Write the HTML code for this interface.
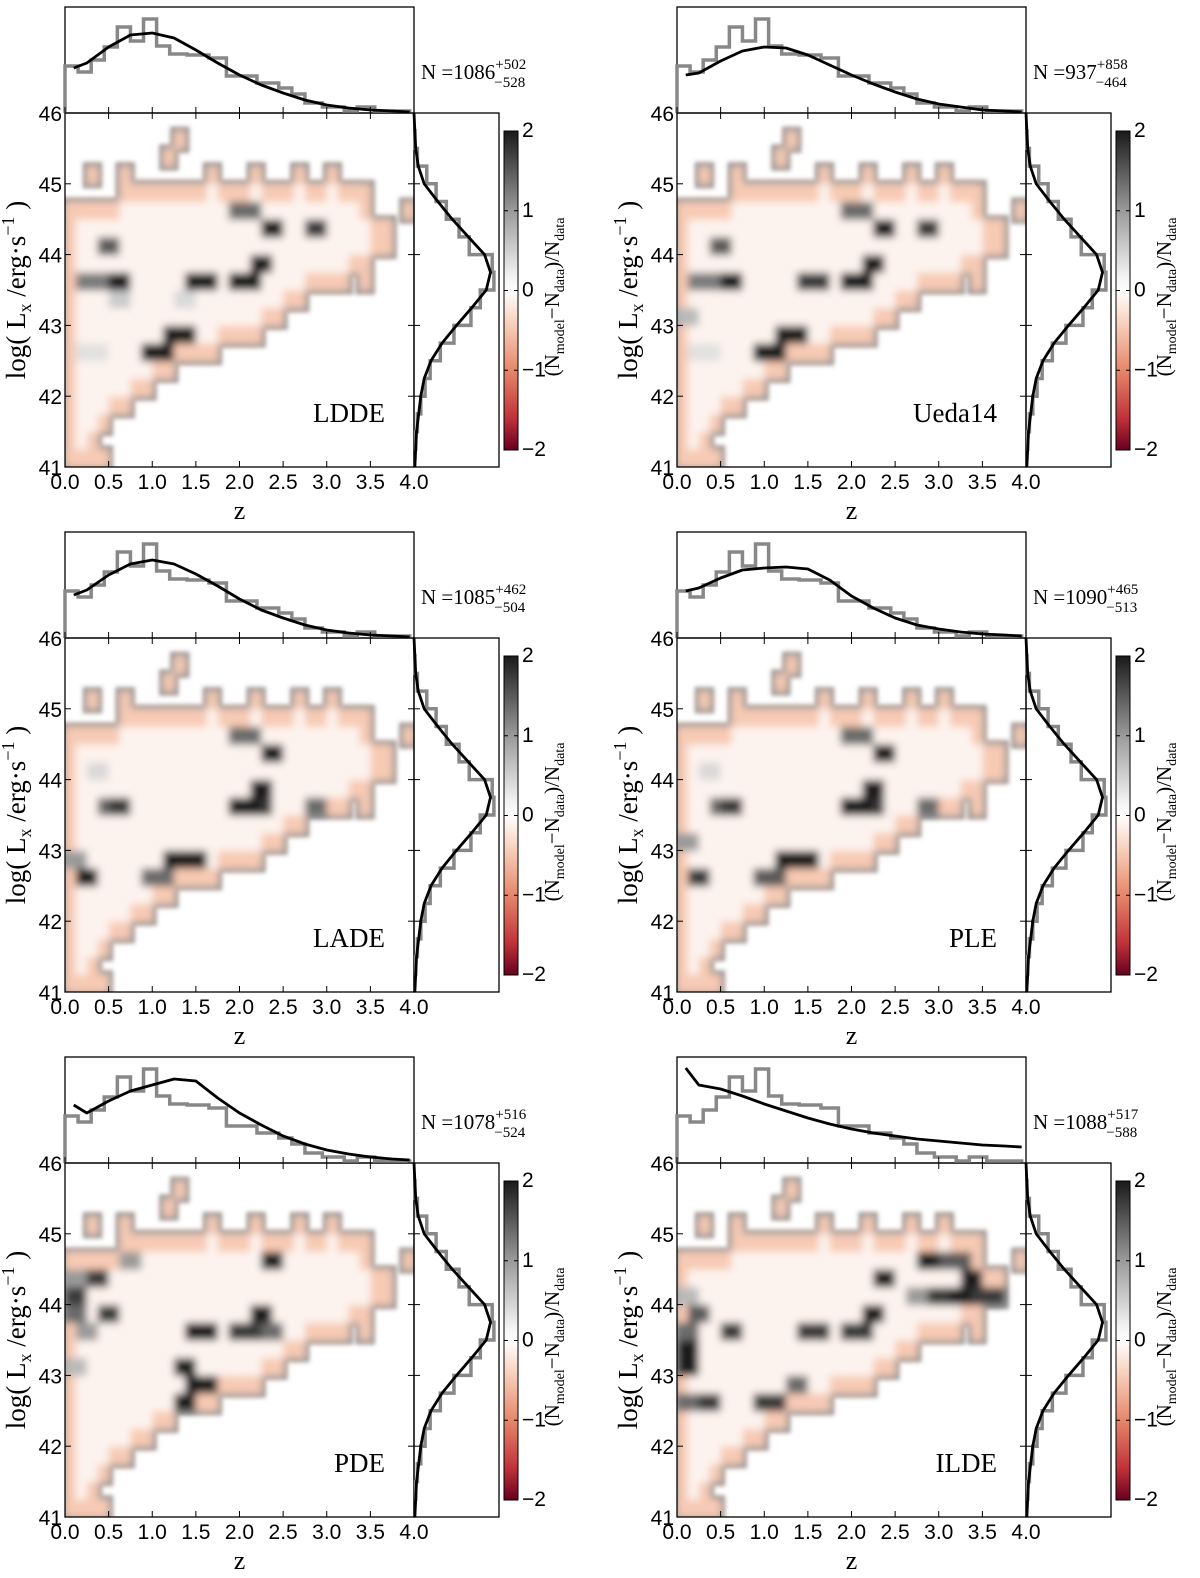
<!DOCTYPE html>
<html><head><meta charset="utf-8"><style>
html,body{margin:0;padding:0;background:#fff;}
svg{display:block;}
.tk{font-family:"Liberation Sans",sans-serif;font-size:21px;fill:#000;}
.sf{font-family:"Liberation Serif",serif;fill:#000;}
</style></head><body>
<svg id="fig" width="1200" height="1578" viewBox="0 0 1200 1578" xmlns="http://www.w3.org/2000/svg">
<defs>
<linearGradient id="cbg" x1="0" y1="0" x2="0" y2="1">
<stop offset="0" stop-color="#1a1a1a"/><stop offset="0.25" stop-color="#9a9a9a"/><stop offset="0.45" stop-color="#f0f0f0"/><stop offset="0.5" stop-color="#ffffff"/><stop offset="0.6" stop-color="#f8d2bf"/><stop offset="0.75" stop-color="#e5876a"/><stop offset="0.9" stop-color="#c0323a"/><stop offset="1" stop-color="#67001f"/>
</linearGradient>
<filter id="heat" filterUnits="userSpaceOnUse" x="0" y="0" width="1200" height="1578">
<feMorphology in="SourceAlpha" operator="dilate" radius="4" result="d"/>
<feFlood flood-color="#9a9a9a" result="f"/>
<feComposite in="f" in2="d" operator="in" result="g"/>
<feGaussianBlur in="g" stdDeviation="2" result="gb"/>
<feGaussianBlur in="SourceGraphic" stdDeviation="4" result="sb"/>
<feMerge><feMergeNode in="gb"/><feMergeNode in="sb"/></feMerge>
</filter>
</defs>
</svg>
<script>
// ---- data ----
const models = ["LDDE","Ueda14","LADE","PLE","PDE","ILDE"];
const nValues = ["1086","937","1085","1090","1078","1088"];
const nPlus = ["+502","+858","+462","+465","+516","+517"];
const nMinus = ["\u2212528","\u2212464","\u2212504","\u2212513","\u2212524","\u2212588"];
const zTicks = ["0.0","0.5","1.0","1.5","2.0","2.5","3.0","3.5","4.0"];
const lTicks = [41,42,43,44,45,46];
const cbTicks = [2,1,0,-1,-2];
const zEdges = [0,0.15,0.3,0.45,0.6,0.75,0.9,1.05,1.2,1.4,1.65,1.85,2.0,2.2,2.45,2.6,2.75,2.95,3.2,3.35,3.55,3.95];
const zCounts = [0.47,0.41,0.53,0.66,0.86,0.72,0.94,0.67,0.59,0.58,0.55,0.37,0.37,0.30,0.25,0.19,0.10,0.06,0.02,0.06,0.02];
const curveZ = [0.1,0.25,0.5,0.75,1.0,1.25,1.5,1.75,2.0,2.25,2.5,2.75,3.0,3.25,3.5,3.75,3.95];
const curveLDDE = [0.45,0.5,0.66,0.78,0.8,0.75,0.63,0.5,0.38,0.28,0.2,0.13,0.08,0.05,0.03,0.02,0.01];
const curveUeda = [0.38,0.4,0.52,0.62,0.66,0.65,0.58,0.48,0.38,0.29,0.21,0.14,0.09,0.06,0.03,0.02,0.01];
const curveLADE = [0.43,0.48,0.63,0.74,0.78,0.74,0.64,0.52,0.39,0.28,0.2,0.13,0.08,0.05,0.03,0.02,0.01];
const curvePLE = [0.47,0.5,0.6,0.68,0.7,0.71,0.69,0.58,0.42,0.3,0.2,0.13,0.09,0.06,0.04,0.03,0.02];
const curvePDE = [0.58,0.5,0.62,0.72,0.78,0.84,0.82,0.65,0.5,0.38,0.27,0.19,0.13,0.09,0.06,0.04,0.03];
const curveILDE = [0.95,0.78,0.74,0.67,0.59,0.52,0.45,0.39,0.34,0.3,0.27,0.24,0.22,0.2,0.18,0.17,0.16];
const zCurves = [curveLDDE,curveUeda,curveLADE,curvePLE,curvePDE,curveILDE];
const lEdges = [41.25,41.5,41.75,42,42.25,42.5,42.75,43,43.25,43.5,43.75,44,44.25,44.5,44.75,45,45.25,45.5];
const lCounts = [0.02,0.04,0.08,0.13,0.19,0.31,0.47,0.67,0.78,0.94,0.92,0.65,0.53,0.38,0.26,0.15,0.04,0.01];
const curveL = [41,41.5,42,42.25,42.5,42.75,43,43.25,43.5,43.75,44,44.25,44.5,44.75,45,45.25,45.5,46];
const curveLVals = [0.01,0.03,0.08,0.12,0.2,0.33,0.5,0.68,0.85,0.9,0.83,0.64,0.45,0.28,0.12,0.05,0.02,0.0];
const maskRows = [[45.5,1.25,1.4],[45.25,1.1,1.25],[45.0,0.2,0.35],[45.0,0.6,0.75],[45.0,1.6,1.75],[45.0,2.1,2.25],[45.0,2.6,2.75],[45.0,3.0,3.15],
[44.75,0.6,3.5],[44.5,0,3.5],[44.5,3.85,4.0],[44.25,0,3.8],[44.0,0,3.7],[43.75,0,3.5],[43.5,0,3.2],[43.5,3.35,3.5],[43.25,0,2.8],[43.25,3.15,3.3],
[43.0,0,2.5],[42.75,0,2.3],[42.5,0,1.8],[42.25,0,1.3],[42.0,0,1.0],[41.75,0,0.8],[41.5,0,0.5],[41.25,0,0.4],[41.0,0,0.45]];
const spotsLDDE = [[0.4,44.1,1.6],[0.6,43.7,2],[0.25,43.5,1.4],[1.5,43.5,2],[2.0,43.5,2],[2.35,44.4,2],[2.35,44.25,2],[2.15,43.9,2],[2.8,44.3,1.8],[1.15,42.95,2],[1.3,42.9,2],[1.0,42.7,2],[2.0,44.7,1.5],[0.6,43.3,0.8],[0.25,42.5,0.5],[1.3,43.3,0.6]];
const spotsUeda = [[0.4,44.1,1.6],[0.6,43.7,2],[0.25,43.5,1.4],[1.5,43.5,1.8],[2.0,43.5,2],[2.35,44.4,2],[2.35,44.25,2],[2.15,43.9,2],[2.8,44.3,1.8],[1.15,42.95,2],[1.3,42.9,2],[1.0,42.7,2],[2.0,44.7,1.5],[0.1,43.2,1.0],[0.25,42.5,0.5]];
const spotsLADE = [[0.2,42.6,2],[0.4,43.5,1.5],[0.6,43.7,1.8],[1.2,42.9,2],[1.4,42.9,2],[1.0,42.7,1.5],[2.0,43.5,2],[2.2,43.5,1.8],[2.35,44.4,2],[2.35,44.25,2],[2.15,43.9,2],[2.0,44.7,1.5],[2.8,43.6,1.5],[0.0,42.9,1.2],[0.3,44.2,0.6]];
const spotsPLE = [[0.2,42.6,1.8],[0.4,43.5,1.5],[0.6,43.7,1.8],[1.2,42.9,2],[1.4,42.9,2],[1.0,42.7,1.6],[2.0,43.5,2],[2.2,43.5,1.8],[2.35,44.4,2],[2.35,44.25,2],[2.15,43.9,2],[2.0,44.7,1.5],[2.8,43.6,1.5],[0.0,43.0,1.2],[0.3,44.2,0.6]];
const spotsPDE = [[0.1,44.1,1.8],[0.3,44.3,1.8],[0.1,43.8,1.5],[0.4,43.9,1.8],[0.7,44.5,1.2],[1.3,43.0,2],[1.5,42.9,2],[1.3,42.7,2],[1.5,43.5,2],[1.9,43.5,1.8],[2.1,43.5,1.8],[2.3,43.5,1.5],[2.15,43.9,2],[2.35,44.6,2],[0.2,43.5,1.2],[0.0,43.0,1.0],[0.0,44.4,1.2]];
const spotsILDE = [[0.0,43.3,2],[0.1,43.0,2],[0.2,43.8,1.6],[0.1,42.6,1.5],[0.3,42.5,1.8],[0.0,43.6,1.5],[2.35,44.4,2],[2.15,43.9,2],[2.8,44.5,2],[3.0,44.2,1.8],[3.2,44.0,2],[3.3,44.4,2],[3.5,44.2,1.8],[2.9,44.7,1.6],[3.2,44.7,1.6],[1.5,43.5,1.8],[2.0,43.5,1.8],[1.3,42.9,1.5],[0.6,43.7,1.8],[1.0,42.7,1.8],[0.0,44.0,1.0],[2.7,44.2,1.2]];
const spots = [spotsLDDE,spotsUeda,spotsLADE,spotsPLE,spotsPDE,spotsILDE];

// ---- drawing ----
const NS = "http://www.w3.org/2000/svg";
const svg = document.getElementById("fig");
function mk(tag, attrs, parent){const e=document.createElementNS(NS,tag);for(const k in attrs)e.setAttribute(k,attrs[k]);(parent||svg).appendChild(e);return e;}
function lerp(a,b,t){return a+(b-a)*t;}
function color(v){
  const stops=[[-2,[103,0,31]],[-1,[229,135,106]],[-0.5,[246,196,172]],[0,[255,255,255]],[0.5,[225,225,225]],[1,[186,186,186]],[2,[26,26,26]]];
  v=Math.max(-2,Math.min(2,v));
  for(let i=0;i<stops.length-1;i++){const a=stops[i],b=stops[i+1];if(v<=b[0]){const t=(v-a[0])/(b[0]-a[0]);return "rgb("+a[1].map((c,j)=>Math.round(lerp(c,b[1][j],t))).join(",")+")";}}
  return "rgb(26,26,26)";
}
const DZ=0.125, DL=0.25;
function inMask(z,L){for(const r of maskRows){if(Math.abs(r[0]-L)<1e-6 && z>=r[1]-1e-6 && z+DZ<=r[2]+0.07)return true;}return false;}

models.forEach((m,idx)=>{
  const col=idx%2,row=Math.floor(idx/2);
  const left=65+col*612, top=7+row*525;
  const W=349, mTop=top+106, mBot=top+460, H=mBot-mTop;
  const px=z=>left+z/4*W, py=L=>mTop+(46-L)/5*H;
  const hy=v=>mTop-v*100, mx=v=>left+W+v*85;
  const g=mk("g",{});
  
  

  const clipId="clip"+idx;
  const cp=mk("clipPath",{id:clipId},g);mk("rect",{x:left,y:mTop,width:W,height:H},cp);
  const hc=mk("g",{"clip-path":"url(#"+clipId+")"},g);
  const hg=mk("g",{filter:"url(#heat)"},hc);
  
  
  for(let L=41;L<46;L+=DL){for(let z=0;z<4;z+=DZ){
    if(!inMask(z,L))continue;
    const edge=!inMask(z-DZ,L)||!inMask(z+DZ,L)||!inMask(z,L-DL)||!inMask(z,L+DL);
    let v=edge?-0.45:-0.1;
    for(const s of spots[idx]){if(s[0]>=z-0.13&&s[0]<z+DZ+0.02&&s[1]>=L-0.01&&s[1]<L+DL-0.01)v=Math.max(v,s[2]);}
    const c=mk("rect",{x:px(z),y:py(L+DL),width:px(z+DZ)-px(z)+0.5,height:py(L)-py(L+DL)+0.5,fill:color(v)},hg);
    
    
  }}

  const f1=mk("rect",{x:left,y:top,width:W,height:106,fill:"none",stroke:"#000","stroke-width":1.3},g);
  
  
  const f2=mk("rect",{x:left,y:mTop,width:W,height:H,fill:"none",stroke:"#000","stroke-width":1.3},g);
  
  
  const f3=mk("rect",{x:left+W,y:mTop,width:85,height:H,fill:"none",stroke:"#000","stroke-width":1.3},g);
  
  

  let d="M"+px(zEdges[0])+","+mTop;
  zCounts.forEach((c,i)=>{d+=" L"+px(zEdges[i])+","+hy(c)+" L"+px(zEdges[i+1])+","+hy(c);});
  d+=" L"+px(zEdges[zEdges.length-1])+","+mTop;
  const zh=mk("path",{d:d,fill:"none",stroke:"#888","stroke-width":3.5},g);
  
  
  const zc=mk("polyline",{points:curveZ.map((z,i)=>px(z)+","+hy(zCurves[idx][i])).join(" "),fill:"none",stroke:"#000","stroke-width":2.8,"stroke-linejoin":"round"},g);
  
  

  let d2="M"+(left+W)+","+py(lEdges[0]);
  lCounts.forEach((c,i)=>{d2+=" L"+mx(c)+","+py(lEdges[i])+" L"+mx(c)+","+py(lEdges[i]+0.25);});
  d2+=" L"+(left+W)+","+py(lEdges[lEdges.length-1]+0.25);
  const lh=mk("path",{d:d2,fill:"none",stroke:"#888","stroke-width":3.5},g);
  
  
  const lc=mk("polyline",{points:curveL.map((L,i)=>mx(curveLVals[i])+","+py(L)).join(" "),fill:"none",stroke:"#000","stroke-width":2.8,"stroke-linejoin":"round"},g);
  
  

  zTicks.forEach((t,i)=>{
    const x=px(+t);
    mk("line",{x1:x,y1:mBot,x2:x,y2:mBot-6,stroke:"#000"},g);
    mk("line",{x1:x,y1:mTop,x2:x,y2:mTop+6,stroke:"#000"},g);
    mk("line",{x1:x,y1:mTop,x2:x,y2:mTop-6,stroke:"#000"},g);
    const tl=mk("text",{x:x,y:mBot+22,"text-anchor":"middle",class:"tk"},g);tl.textContent=t;
    
    
  });
  lTicks.forEach(L=>{
    const y=py(L);
    mk("line",{x1:left,y1:y,x2:left+6,y2:y,stroke:"#000"},g);
    mk("line",{x1:left+W,y1:y,x2:left+W-6,y2:y,stroke:"#000"},g);
    mk("line",{x1:left+W,y1:y,x2:left+W+6,y2:y,stroke:"#000"},g);
    const tl=mk("text",{x:left-3,y:y+8,"text-anchor":"end",class:"tk"},g);tl.textContent=L;
    
    
  });

  const xl=mk("text",{x:left+W/2,y:mBot+52,"text-anchor":"middle",class:"sf","font-size":26},g);xl.textContent="z";
  
  
  const yl=mk("text",{transform:"translate("+(left-40)+","+(mTop+H/2)+") rotate(-90)","text-anchor":"middle",class:"sf","font-size":27},g);
  yl.innerHTML='log( L<tspan font-size="18" dy="6">x</tspan><tspan dy="-6"> /erg·s</tspan><tspan font-size="18" dy="-11">−1</tspan><tspan dy="11"> )</tspan>';
  
  

  const mn=mk("text",{x:left+320,y:top+415,"text-anchor":"end",class:"sf","font-size":27},g);mn.textContent=m;
  
  

  const nl=mk("text",{x:left+W+7,y:top+72,class:"sf","font-size":21},g);
  nl.innerHTML='N =' + nValues[idx] + '<tspan font-size="15" dy="-10">'+nPlus[idx]+'</tspan><tspan font-size="15" dx="-32" dy="18">'+nMinus[idx]+'</tspan>';
  
  

  const cx=left+439, cy0=top+124, cy1=top+443;
  const cb=mk("rect",{x:cx,y:cy0,width:14,height:cy1-cy0,fill:"url(#cbg)",stroke:"#000","stroke-width":1},g);
  
  
  cbTicks.forEach(t=>{
    const y=cy0+(2-t)/4*(cy1-cy0);
    mk("line",{x1:cx+14,y1:y,x2:cx+10,y2:y,stroke:"#000"},g);
    mk("line",{x1:cx,y1:y,x2:cx+4,y2:y,stroke:"#000"},g);
    const tl=mk("text",{x:cx+18,y:y+6,class:"tk","font-size":16},g);tl.textContent=t<0?"\u2212"+(-t):t;
    
    
  });
  const cl=mk("text",{transform:"translate("+(left+494)+","+(top+290)+") rotate(-90)","text-anchor":"middle",class:"sf","font-size":21},g);
  cl.innerHTML='(N<tspan font-size="14" dy="5">model</tspan><tspan dy="-5">−N</tspan><tspan font-size="14" dy="5">data</tspan><tspan dy="-5">)/N</tspan><tspan font-size="14" dy="5">data</tspan>';
  
  
});
</script>
</body></html>
